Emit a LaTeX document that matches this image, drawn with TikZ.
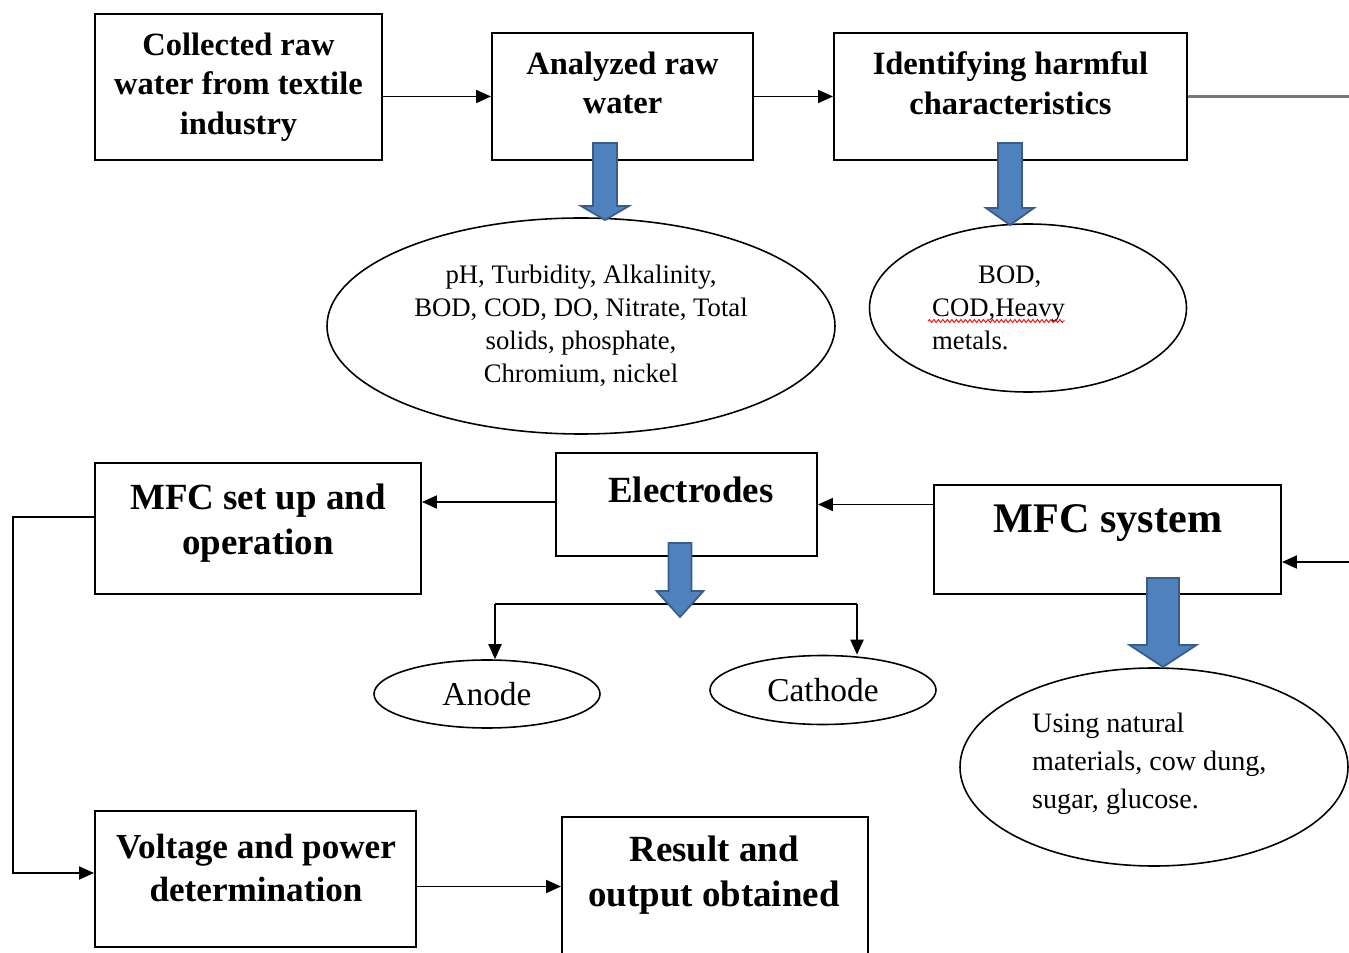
\documentclass[tikz,border=0pt]{standalone}
\usepackage{fontspec}
\setmainfont{Liberation Serif}
\usetikzlibrary{arrows.meta,shapes.geometric,decorations.pathmorphing}

\definecolor{arrowblue}{RGB}{79,129,189}
\definecolor{arrowedge}{RGB}{56,93,138}
\definecolor{linegray}{RGB}{120,120,120}

\tikzset{
    box/.style={draw, line width=1.1pt, inner sep=0pt},
    smalltext/.style={align=center, font=\bfseries\fontsize{18.5}{22.5}\selectfont},
    bigtext/.style={align=center, font=\bfseries\fontsize{21}{26}\selectfont},
    oval/.style={draw, ellipse, line width=0.9pt, inner sep=0pt},
    ovaltext/.style={align=center, font=\fontsize{15.2}{18.8}\selectfont},
    conn/.style={line width=1.1pt, -{Triangle[length=0.3cm,width=0.26cm]}},
    fatarrow/.style={fill=arrowblue, draw=arrowedge, line width=1pt},
}

\begin{document}
\begin{tikzpicture}
    \useasboundingbox (0,0) rectangle (26.98,19.04);

    % Boxes of the top row
    \node[box, minimum width=5.74cm, minimum height=2.92cm] (collect) at (4.77,17.30) {};
    \node[box, minimum width=5.22cm, minimum height=2.54cm] (anal) at (12.45,17.11) {};
    \node[box, minimum width=7.06cm, minimum height=2.54cm] (harm) at (20.21,17.11) {};
    \node[smalltext] (collect-t) at (4.77,17.30) {Collected raw\\water from textile\\industry};
    \node[smalltext] (anal-t) at (12.45,17.38) {Analyzed raw\\water};
    \node[smalltext] (harm-t) at (20.21,17.38) {Identifying harmful\\characteristics};

    % Boxes of the middle row
    \node[box, minimum width=6.52cm, minimum height=2.62cm] (setup) at (5.16,8.47) {};
    \node[box, minimum width=5.22cm, minimum height=2.06cm] (elec) at (13.73,8.95) {};
    \node[box, minimum width=6.94cm, minimum height=2.18cm] (mfc) at (22.15,8.25) {};
    \node[bigtext] (setup-t) at (5.16,8.58) {MFC set up and\\operation};
    \node[bigtext] (elec-t) at (13.82,9.24) {Electrodes};
    \node[bigtext, font=\bfseries\fontsize{24}{28}\selectfont] (mfc-t) at (22.16,8.58) {MFC system};

    % Boxes of the bottom row
    \node[box, minimum width=6.42cm, minimum height=2.72cm] (volt) at (5.11,1.46) {};
    \node[box, minimum width=6.12cm, minimum height=2.74cm] (result) at (14.30,1.33) {};
    \node[bigtext, font=\bfseries\fontsize{20}{25}\selectfont] (volt-t) at (5.12,1.68) {Voltage and power\\determination};
    \node[bigtext] (result-t) at (14.28,1.54) {Result and\\output obtained};

    % Ellipses
    \node[oval, ovaltext, minimum width=10.16cm, minimum height=4.32cm] (params) at (11.62,12.52)
        {pH, Turbidity, Alkalinity,\\BOD, COD, DO, Nitrate, Total\\solids, phosphate,\\Chromium, nickel};
    \node[oval, minimum width=6.34cm, minimum height=3.36cm] (harmful) at (20.56,12.88) {};
    \node[ovaltext, align=left, anchor=north west] (harmful-t) at (18.52,13.84)
        {\hspace*{0.92cm}BOD,\\COD,Heavy\\metals.};
    \node[oval, minimum width=4.52cm, minimum height=1.36cm, font=\fontsize{19}{22}\selectfont] (anode) at (9.74,5.16) {Anode};
    \node[oval, minimum width=4.52cm, minimum height=1.38cm, font=\fontsize{19}{22}\selectfont] (cathode) at (16.46,5.24) {Cathode};
    \node[oval, minimum width=7.76cm, minimum height=3.96cm] (natural) at (23.08,3.70) {};
    \node[ovaltext, align=left, anchor=north west, font=\fontsize{16}{21.5}\selectfont] (natural-t) at (20.52,4.90)
        {Using natural\\materials, cow dung,\\sugar, glucose.};

    % Red wavy mark under the word
    \draw[red, line width=0.5pt, decorate, decoration={snake, amplitude=0.03cm, segment length=0.09cm}]
        (18.56,12.62) -- (21.30,12.62);

    % Connectors
    \draw[conn] (collect.east |- anal.west) -- (anal.west);
    \draw[conn] (anal.east) -- (harm.west);
    \coordinate (rtop) at (27.3,17.11);
    \draw[linegray, line width=2pt] (harm.east) -- (rtop);
    \draw[conn] (rtop) |- ([yshift=-0.45cm]mfc.east);
    \draw[conn] (mfc.west |- elec.east) -- (elec.east);
    \draw[conn] ([yshift=0.05cm]elec.west) -- ([yshift=0.05cm]elec.west -| setup.east);
    \draw[conn] ([yshift=0.23cm]setup.west) -- ++(-1.62,0) |- ([yshift=0.12cm]volt.west);
    \draw[conn] ([yshift=-0.15cm]volt.east) -- ([yshift=-0.15cm]volt.east -| result.west);

    % Split to anode and cathode
    \coordinate (splitl) at (9.90,6.96);
    \coordinate (splitr) at (17.14,6.96);
    \draw[line width=1.1pt] (splitl) -- (splitr);
    \draw[conn] (splitl) -- (splitl |- anode.north);
    \draw[conn] (splitr) -- (splitr |- cathode.north);

    % Blue block arrows: x / top / head start / tip / half shaft / half head
    \foreach \x/\t/\h/\p/\s/\w in {12.10/16.18/14.92/14.64/0.24/0.48,
                                  20.20/16.18/14.88/14.54/0.24/0.48,
                                  13.60/8.18/7.22/6.70/0.23/0.47,
                                  23.26/7.48/6.14/5.70/0.32/0.67} {
        \filldraw[fatarrow] ({\x-\s},\t) -- ({\x+\s},\t) -- ({\x+\s},\h) -- ({\x+\w},\h)
            -- (\x,\p) -- ({\x-\w},\h) -- ({\x-\s},\h) -- cycle;
    }

\end{tikzpicture}
\end{document}
